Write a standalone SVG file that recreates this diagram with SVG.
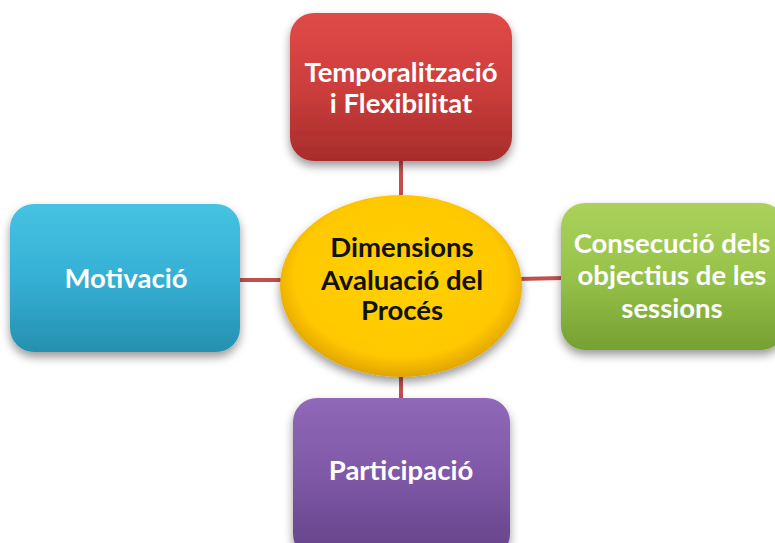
<svg xmlns="http://www.w3.org/2000/svg" width="775" height="543" viewBox="0 0 775 543">
<defs>
<linearGradient id="gRed" x1="0" y1="0" x2="0" y2="1"><stop offset="0" stop-color="#e04a48"/><stop offset="0.5" stop-color="#cc3e3c"/><stop offset="1" stop-color="#a82c2b"/></linearGradient>
<linearGradient id="gCyan" x1="0" y1="0" x2="0" y2="1"><stop offset="0" stop-color="#46c2e2"/><stop offset="0.5" stop-color="#35b0d4"/><stop offset="1" stop-color="#2690b0"/></linearGradient>
<linearGradient id="gGreen" x1="0" y1="0" x2="0" y2="1"><stop offset="0" stop-color="#aad25a"/><stop offset="0.5" stop-color="#97c24a"/><stop offset="1" stop-color="#76a032"/></linearGradient>
<linearGradient id="gPurple" x1="0" y1="0" x2="0" y2="1"><stop offset="0" stop-color="#9068b8"/><stop offset="0.5" stop-color="#7e58a6"/><stop offset="1" stop-color="#654288"/></linearGradient>
<radialGradient id="gYellow" cx="0.5" cy="0.45" r="0.55"><stop offset="0" stop-color="#ffd200"/><stop offset="0.8" stop-color="#ffc800"/><stop offset="1" stop-color="#e0a400"/></radialGradient>
<filter id="sh" x="-20%" y="-20%" width="140%" height="150%"><feDropShadow dx="0" dy="5" stdDeviation="5" flood-color="#000" flood-opacity="0.4"/></filter>
</defs>
<style>
.lbl{font-family:"Lato","Liberation Sans",sans-serif;font-weight:bold;font-size:27.5px;text-anchor:middle;fill:#ffffff}
.dark{fill:#111111}
.conn{stroke:#c0504d;stroke-width:4;fill:none}
</style>
<g id="connectors">
<line class="conn" x1="401" y1="160" x2="401" y2="200"/>
<line class="conn" x1="401" y1="372" x2="401" y2="400"/>
<line class="conn" x1="238" y1="280" x2="284" y2="280"/>
<line class="conn" x1="518" y1="279" x2="563" y2="278"/>
</g>
<g id="node-top">
<rect x="290" y="13" width="222" height="148" rx="24" fill="url(#gRed)" filter="url(#sh)"/>
<text class="lbl" x="401" y="82">Temporalització</text>
<text class="lbl" x="401" y="113">i Flexibilitat</text>
</g>
<g id="node-left">
<rect x="10" y="204" width="230" height="148" rx="24" fill="url(#gCyan)" filter="url(#sh)"/>
<text class="lbl" x="126" y="288">Motivació</text>
</g>
<g id="node-right">
<rect x="561" y="203" width="224" height="147" rx="24" fill="url(#gGreen)" filter="url(#sh)"/>
<text class="lbl" x="672" y="253">Consecució dels</text>
<text class="lbl" x="672" y="285">objectius de les</text>
<text class="lbl" x="672" y="318">sessions</text>
</g>
<g id="node-bottom">
<rect x="293" y="398" width="217" height="160" rx="24" fill="url(#gPurple)" filter="url(#sh)"/>
<text class="lbl" x="401" y="480">Participació</text>
</g>
<g id="node-center">
<ellipse cx="401" cy="286" rx="121" ry="91" fill="url(#gYellow)" filter="url(#sh)"/>
<text class="lbl dark" x="402" y="257">Dimensions</text>
<text class="lbl dark" x="402" y="290">Avaluació del</text>
<text class="lbl dark" x="402" y="320">Procés</text>
</g>
</svg>
